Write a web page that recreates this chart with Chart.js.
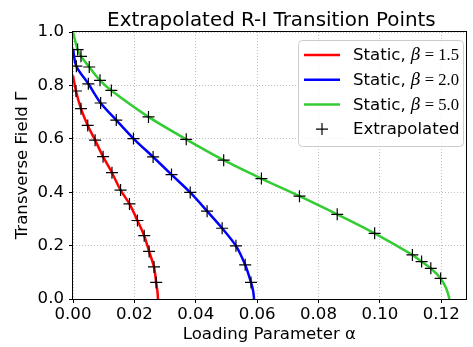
<!DOCTYPE html>
<html>
<head>
<meta charset="utf-8">
<script src="https://cdn.jsdelivr.net/npm/chart.js@4"></script>
<style>
html, body { margin: 0; padding: 0; background: #fff; }
</style>
</head>
<body>
<canvas id="chart" width="473" height="347"></canvas>
<script>
// static curves (alpha, gamma)
const redAlpha = [0, 0.00096, 0.0026, 0.0048, 0.0072, 0.0098, 0.0127, 0.0155, 0.0184, 0.0210, 0.0232, 0.0248, 0.0264, 0.0271, 0.0275, 0.0277];
const redGamma = [0.837, 0.779, 0.713, 0.650, 0.595, 0.533, 0.473, 0.408, 0.356, 0.294, 0.237, 0.178, 0.120, 0.062, 0.030, 0];

const blueAlpha = [0, 0.0011, 0.0050, 0.0090, 0.0141, 0.0197, 0.0261, 0.0321, 0.0382, 0.0437, 0.0486, 0.0531, 0.0561, 0.0580, 0.0587, 0.0590];
const blueGamma = [0.937, 0.872, 0.806, 0.734, 0.670, 0.601, 0.532, 0.466, 0.399, 0.329, 0.265, 0.199, 0.128, 0.062, 0.030, 0];

const greenAlpha = [0, 0.0015, 0.0026, 0.0053, 0.0088, 0.0125, 0.0246, 0.0369, 0.0491, 0.0614, 0.0738, 0.0861, 0.0983, 0.1106, 0.1136, 0.1166, 0.1198, 0.1216, 0.1227];
const greenGamma = [1.0, 0.934, 0.909, 0.869, 0.819, 0.781, 0.682, 0.598, 0.520, 0.451, 0.385, 0.317, 0.246, 0.165, 0.140, 0.115, 0.077, 0.040, 0];

// extrapolated transition points
const extrapAlpha = [
  0.00096, 0.0026, 0.0048, 0.0072, 0.0098, 0.0127, 0.0155, 0.0184, 0.0210, 0.0232, 0.0248, 0.0264, 0.0271,
  0.0011, 0.0050, 0.0090, 0.0141, 0.0197, 0.0261, 0.0321, 0.0382, 0.0437, 0.0486, 0.0531, 0.0561, 0.0580,
  0.0015, 0.0026, 0.0053, 0.0088, 0.0125, 0.0246, 0.0369, 0.0491, 0.0614, 0.0738, 0.0861, 0.0983, 0.1106, 0.1136, 0.1166, 0.1198
];
const extrapGamma = [
  0.779, 0.713, 0.650, 0.595, 0.533, 0.473, 0.408, 0.356, 0.294, 0.237, 0.178, 0.120, 0.062,
  0.872, 0.806, 0.734, 0.670, 0.601, 0.532, 0.466, 0.399, 0.329, 0.265, 0.199, 0.128, 0.062,
  0.934, 0.909, 0.869, 0.819, 0.781, 0.682, 0.598, 0.520, 0.451, 0.385, 0.317, 0.246, 0.165, 0.140, 0.115, 0.077
];

const seriesLabels = ['Static, \u03b2 = 1.5', 'Static, \u03b2 = 2.0', 'Static, \u03b2 = 5.0', 'Extrapolated'];
const seriesColors = ['#ff0000', '#0000ff', '#33cc33', '#000000'];

const xTicks = [0, 0.02, 0.04, 0.06, 0.08, 0.10, 0.12];
const yTicks = [0, 0.2, 0.4, 0.6, 0.8, 1.0];

const FONT = 'DejaVu Sans';
const FS = 16.6;

function pts(xs, ys) {
  return xs.map((x, i) => ({ x: x, y: ys[i] }));
}

function curve(i, xs, ys) {
  return {
    label: seriesLabels[i],
    data: pts(xs, ys),
    showLine: true,
    borderColor: seriesColors[i],
    borderWidth: 2.5,
    pointRadius: 0,
    tension: 0.3,
    order: 1
  };
}

// frame around plot area
const framePlugin = {
  id: 'frame',
  afterDatasetsDraw(chart) {
    const a = chart.chartArea, c = chart.ctx;
    c.save();
    c.strokeStyle = '#000';
    c.lineWidth = 1;
    c.strokeRect(Math.round(a.left) - 0.5, Math.round(a.top) - 0.5,
      Math.round(a.right - a.left) + 1, Math.round(a.bottom - a.top) + 1);
    c.restore();
  }
};

// title centred over the plot area, and legend in the top right
const textPlugin = {
  id: 'texts',
  afterDraw(chart) {
    const a = chart.chartArea, c = chart.ctx;
    c.save();
    c.fillStyle = '#000';
    c.font = '19.9px "' + FONT + '"';
    c.textAlign = 'center';
    c.textBaseline = 'alphabetic';
    c.fillText('Extrapolated R-I Transition Points', (a.left + a.right) / 2 + 2, 26);

    // legend box
    const bx = 298, by = 40, bw = 165, bh = 106;
    c.beginPath();
    c.roundRect(bx + 0.5, by + 0.5, bw, bh, 4);
    c.fillStyle = 'rgba(255,255,255,0.8)';
    c.fill();
    c.strokeStyle = '#cccccc';
    c.lineWidth = 1;
    c.stroke();

    c.textAlign = 'left';
    c.textBaseline = 'middle';
    chart.data.datasets.forEach((ds, i) => {
      const y = 55 + i * 24.7;
      c.strokeStyle = ds.borderColor;
      c.beginPath();
      if (ds.showLine) {
        c.lineWidth = 2.5;
        c.moveTo(304, y);
        c.lineTo(340, y);
      } else {
        c.lineWidth = 1.2;
        c.moveTo(316, y); c.lineTo(328, y);
        c.moveTo(322, y - 6); c.lineTo(322, y + 6);
      }
      c.stroke();

      // plain part in sans, the beta part in serif like the math text
      c.fillStyle = '#000';
      const k = ds.label.indexOf('\u03b2');
      const plain = k < 0 ? ds.label : ds.label.slice(0, k);
      c.font = FS + 'px "' + FONT + '"';
      c.fillText(plain, 353, y + 1);
      if (k >= 0) {
        let x = 353 + c.measureText(plain).width;
        c.font = 'italic ' + FS + 'px "DejaVu Serif"';
        c.fillText('\u03b2', x, y + 1);
        x += c.measureText('\u03b2').width;
        c.font = FS + 'px "Liberation Serif"';
        c.fillText(ds.label.slice(k + 1), x, y + 1);
      }
    });
    c.restore();
  }
};

const grid = {
  color: '#b0b0b0',
  lineWidth: 0.8,
  tickColor: '#000',
  tickLength: 4,
  tickBorderDash: [],
  tickWidth: 1
};

const tickFont = { family: FONT, size: FS };

const ctx = document.getElementById('chart').getContext('2d');
const chart = new Chart(ctx, {
  type: 'scatter',
  data: {
    datasets: [
      curve(0, redAlpha, redGamma),
      curve(1, blueAlpha, blueGamma),
      curve(2, greenAlpha, greenGamma),
      {
        label: seriesLabels[3],
        data: pts(extrapAlpha, extrapGamma),
        pointStyle: 'cross',
        pointRadius: 6,
        borderColor: '#000',
        borderWidth: 1.2,
        showLine: false,
        order: 0
      }
    ]
  },
  options: {
    responsive: false,
    animation: false,
    layout: { padding: { left: 0, top: 32, right: 1, bottom: 0 } },
    plugins: {
      legend: { display: false },
      title: { display: false },
      tooltip: { enabled: false }
    },
    scales: {
      x: {
        type: 'linear',
        min: 0,
        max: 0.128,
        afterFit(s) { s.height = 48; },
        afterBuildTicks(s) { s.ticks = xTicks.map(v => ({ value: v })); },
        grid: grid,
        border: { display: false, dash: [1, 2] },
        ticks: {
          color: '#000',
          padding: 2,
          font: tickFont,
          maxRotation: 0,
          callback: v => v.toFixed(2)
        },
        title: {
          display: true,
          text: 'Loading Parameter \u03b1',
          color: '#000',
          font: tickFont,
          padding: { top: 0, bottom: 2 }
        }
      },
      y: {
        type: 'linear',
        min: 0,
        max: 1.0,
        afterFit(s) { s.width = 73; },
        afterBuildTicks(s) { s.ticks = yTicks.map(v => ({ value: v })); },
        grid: grid,
        border: { display: false, dash: [1, 2] },
        ticks: {
          color: '#000',
          padding: 5,
          font: tickFont,
          callback: v => v.toFixed(1)
        },
        title: {
          display: true,
          text: 'Transverse Field \u0393',
          color: '#000',
          font: tickFont,
          padding: { top: 13, bottom: 0 }
        }
      }
    }
  },
  plugins: [framePlugin, textPlugin]
});
</script>
</body>
</html>
